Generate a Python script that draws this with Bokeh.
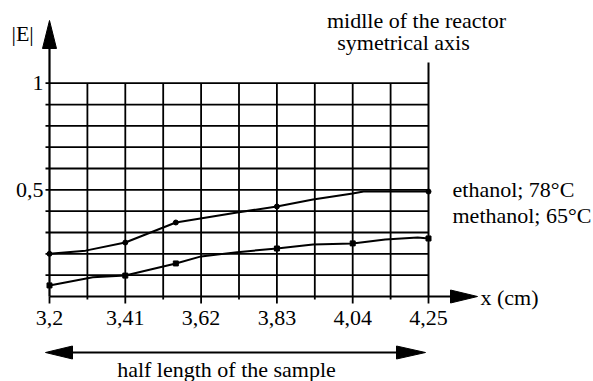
import numpy as np
from bokeh.plotting import figure
from bokeh.models import Range1d
from bokeh.core.properties import value
from bokeh.embed import file_html
from bokeh.resources import INLINE

# ---- data ----
x_tick_values = [3.2, 3.41, 3.62, 3.83, 4.04, 4.25]
x_tick_labels = ["3,2", "3,41", "3,62", "3,83", "4,04", "4,25"]
y_tick_values = [0.5, 1.0]
y_tick_labels = ["0,5", "1"]

eth_x = [3.2, 3.30, 3.41, 3.55, 3.72, 3.83, 3.93, 4.04, 4.07, 4.15, 4.25]
eth_y = [0.200, 0.215, 0.253, 0.347, 0.394, 0.422, 0.455, 0.483, 0.492, 0.492, 0.492]
eth_pts_x = [3.2, 3.41, 3.55, 3.83, 4.25]
eth_pts_y = [0.200, 0.253, 0.347, 0.422, 0.492]

meth_x = [3.2, 3.32, 3.41, 3.55, 3.62, 3.72, 3.83, 3.93, 4.04, 4.13, 4.22, 4.25]
meth_y = [0.052, 0.090, 0.098, 0.155, 0.188, 0.208, 0.225, 0.244, 0.249, 0.267, 0.277, 0.272]
meth_pts_x = [3.2, 3.41, 3.55, 3.83, 4.04, 4.25]
meth_pts_y = [0.052, 0.098, 0.155, 0.225, 0.249, 0.272]

series_labels = ["ethanol; 78°C", "methanol; 65°C"]

FONT = value("Liberation Serif")
FS = "22px"

# ---- figure: frame covers the whole canvas ----
x0, x1 = 3.2, 4.25
PX0, PX1 = 49, 428       # pixel columns of x0 and x1
PY0 = 296                # pixel row of y = 0
px_per_x = (PX1 - PX0) / (x1 - x0)
px_per_y = 213.3
p = figure(width=593, height=381,
           x_range=Range1d(x0 - PX0 / px_per_x, x0 + (593 - PX0) / px_per_x),
           y_range=Range1d(-(381 - PY0) / px_per_y, PY0 / px_per_y),
           min_border=0, x_axis_location=None, y_axis_location=None,
           toolbar_location=None, output_backend="svg")
p.outline_line_color = None
p.xgrid.visible = False
p.ygrid.visible = False
p.background_fill_color = "white"

xs = lambda px: x0 + (px - PX0) / px_per_x
ys = lambda py: (PY0 - py) / px_per_y
dy = 1 / px_per_y

# grid
xg = np.linspace(x0, x1, 11)
yg = np.linspace(0, 1, 11)
p.segment(x0=xg[1:-1], y0=[0] * 9, x1=xg[1:-1], y1=[1] * 9, line_color="black", line_width=1.8)
p.segment(x0=[xs(PX0 - 4)] * 10, y0=yg[1:], x1=[x1] * 10, y1=yg[1:], line_color="black", line_width=1.8)
# right "symmetry axis" line
p.segment(x0=[x1], y0=[0], x1=[x1], y1=[ys(62)], line_color="black", line_width=2)

# small ticks below axis
major = set(np.round(x_tick_values, 3))
tick_len = [(7 if round(v, 3) in major else 3) * dy for v in xg]
p.segment(x0=xg, y0=[0] * 11, x1=xg, y1=[-t for t in tick_len], line_color="black", line_width=1.8)

# axis lines
p.segment(x0=[x0, x0], y0=[0, 0], x1=[xs(455), x0], y1=[0, ys(45)], line_color="black", line_width=2.2)
# half-length double arrow shaft
yb = ys(352)
p.segment(x0=[xs(60)], y0=[yb], x1=[xs(410)], y1=[yb], line_color="black", line_width=1.8)

# arrowheads (narrow triangles)
heads_x = [
    [xs(PX0), xs(PX0 - 7), xs(PX0 + 7)],          # y axis
    [xs(477), xs(450), xs(450)],                  # x axis
    [xs(45), xs(72), xs(72)],                     # double arrow left
    [xs(425), xs(396), xs(396)],                  # double arrow right
]
heads_y = [
    [ys(20), ys(48), ys(48)],
    [ys(PY0), ys(PY0 - 6.5), ys(PY0 + 6.5)],
    [yb, yb + 6.5 * dy, yb - 6.5 * dy],
    [yb, yb + 6.5 * dy, yb - 6.5 * dy],
]
p.patches(heads_x, heads_y, fill_color="black", line_color="black", line_width=1)

# curves
p.line(eth_x, eth_y, line_color="black", line_width=2)
p.scatter(eth_pts_x, eth_pts_y, size=5, color="black")
p.line(meth_x, meth_y, line_color="black", line_width=2)
p.scatter(meth_pts_x, meth_pts_y, size=5, marker="square", color="black")

# tick labels
p.text(x=x_tick_values, y=[ys(317)] * len(x_tick_values), text=x_tick_labels,
       text_font=FONT, text_font_size=FS, text_align="center", text_baseline="middle", text_color="black")
p.text(x=[xs(PX0 - 6)] * 2, y=y_tick_values, text=y_tick_labels,
       text_font=FONT, text_font_size=FS, text_align="right", text_baseline="middle", text_color="black")

# other texts
p.text(x=[xs(11)], y=[ys(33)], text=["|E|"], text_font=FONT, text_font_size=FS,
       text_align="left", text_baseline="middle", text_color="black")
p.text(x=[xs(416)], y=[ys(20)], text=["midlle of the reactor"], text_font=FONT, text_font_size=FS,
       text_align="center", text_baseline="middle", text_color="black")
p.text(x=[xs(403)], y=[ys(42)], text=["symetrical axis"], text_font=FONT, text_font_size=FS,
       text_align="center", text_baseline="middle", text_color="black")
p.text(x=[xs(452)] * 2, y=[ys(189), ys(215)], text=series_labels, text_font=FONT, text_font_size=FS,
       text_align="left", text_baseline="middle", text_color="black")
p.text(x=[xs(480)], y=[ys(297)], text=["x (cm)"], text_font=FONT, text_font_size=FS,
       text_align="left", text_baseline="middle", text_color="black")
p.text(x=[xs(226)], y=[ys(369)], text=["half length of the sample"], text_font=FONT, text_font_size=FS,
       text_align="center", text_baseline="middle", text_color="black")

open("out.html", "w").write(file_html(p, INLINE))
